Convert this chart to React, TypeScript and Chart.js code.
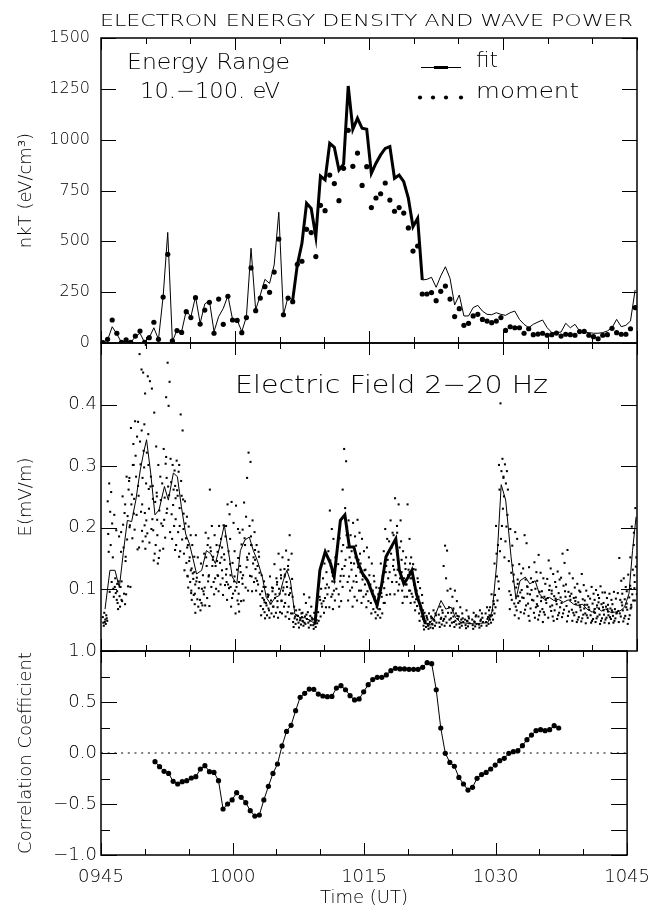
import React, { useEffect, useRef } from 'react';
import { Chart, registerables } from 'chart.js';
Chart.register(...registerables);

// ---------------- data ----------------
const TIME_LABELS = ['0945', '1000', '1015', '1030', '1045'];
const X_MIN = 0; // minutes after 09:45 UT
const X_MAX = 60;
const X_STEP = 5;
const X_MAJOR = 15;

// panel 1: electron energy density nkT (eV/cm^3), 10-100 eV
const NKT_T0 = 0.22; // first sample, min after 0945
const NKT_DT = 0.518; // sampling interval, min
const NKT_FIT = [
  2, 15, 80, 44, 3, 12, 3, 31, 48, 3,
  26, 75, 18, 228, 544, 7, 64, 56, 159, 129,
  228, 97, 192, 208, 56, 130, 170, 233, 116, 113,
  56, 129, 466, 162, 236, 313, 293, 384, 643, 138,
  228, 211, 384, 490, 687, 662, 523, 821, 802, 982,
  962, 851, 880, 1264, 1051, 1105, 1056, 1051, 834, 884,
  925, 957, 966, 810, 826, 793, 711, 572, 613, 310,
  313, 323, 274, 330, 375, 318, 187, 236, 133, 133,
  174, 185, 157, 141, 139, 149, 141, 136, 149, 157,
  116, 92, 75, 92, 103, 113, 75, 51, 51, 54,
  97, 75, 92, 59, 54, 51, 48, 48, 51, 59,
  75, 116, 80, 87, 108, 261,
];
const NKT_MOMENT = [
  2, 18, 113, 48, 3, 15, 3, 34, 59, 3,
  26, 102, 18, 226, 436, 10, 61, 52, 154, 125,
  223, 93, 162, 200, 48, 216, 92, 230, 113, 111,
  51, 125, 369, 159, 221, 277, 249, 349, 511, 139,
  221, 203, 387, 402, 559, 543, 425, 677, 651, 826,
  784, 700, 859, 1046, 869, 934, 775, 867, 666, 713,
  734, 787, 703, 648, 666, 639, 566, 452, 477, 241,
  241, 248, 208, 254, 280, 216, 130, 169, 87, 97,
  133, 141, 116, 108, 100, 108, 125, 62, 80, 75,
  75, 48, 70, 41, 44, 48, 38, 41, 49, 34,
  43, 41, 38, 56, 57, 38, 31, 21, 38, 41,
  72, 51, 43, 43, 70, 174,
];
const NKT_THICK_FROM = 41;
const NKT_THICK_TO = 69;
const NKT_TICKS = [0, 250, 500, 750, 1000, 1250, 1500];

// panel 2: electric field 2-20 Hz (mV/m)
const E_LINE_T = [
  0.45, 1.0, 1.57, 2.05, 2.5, 2.95, 3.43, 3.9, 4.4, 4.8,
  5.1, 5.56, 6.04, 6.5, 7.1, 7.54, 8.1, 8.55, 9.0, 9.48,
  9.9, 10.3, 10.7, 11.27, 11.8, 12.27, 12.8, 13.3, 13.8, 14.25,
  14.7, 15.2, 15.6, 16.1, 16.6, 17.05, 17.5, 18.06, 18.5, 19.0,
  19.5, 19.96, 20.4, 20.8, 21.2, 21.7, 22.3, 22.8, 23.4, 23.95,
  24.5, 25.1, 25.7, 26.1, 26.8, 27.3, 27.8, 28.3, 28.8, 29.3,
  29.85, 30.4, 30.9, 31.4, 31.9, 32.5, 33.0, 33.4, 33.9, 34.4,
  34.8, 35.3, 35.8, 36.3, 36.8, 37.3, 38.06, 38.6, 39.2, 39.7,
  40.3, 41.0, 41.8, 42.5, 43.3, 43.8, 44.3, 44.8, 45.3, 45.9,
  46.45, 46.9, 47.5, 48.0, 48.6, 49.07, 49.6, 50.2, 50.7, 51.2,
  51.75, 52.3, 52.9, 53.4, 53.9, 54.4, 55.0, 55.5, 56.0, 56.5,
  57.0, 57.5, 58.1, 58.6, 59.1, 59.5, 59.9,
];
const E_LINE_V = [
  0.068, 0.131, 0.131, 0.103, 0.16, 0.212, 0.21, 0.245, 0.294, 0.324,
  0.343, 0.289, 0.221, 0.229, 0.267, 0.245, 0.289, 0.283, 0.234, 0.19,
  0.174, 0.15, 0.125, 0.131, 0.163, 0.158, 0.142, 0.17, 0.205, 0.163,
  0.12, 0.109, 0.163, 0.18, 0.185, 0.163, 0.147, 0.12, 0.087, 0.076,
  0.087, 0.09, 0.114, 0.131, 0.114, 0.06, 0.054, 0.054, 0.05, 0.044,
  0.131, 0.161, 0.142, 0.12, 0.212, 0.221, 0.169, 0.169, 0.142, 0.125,
  0.114, 0.093, 0.074, 0.106, 0.153, 0.169, 0.182, 0.131, 0.109, 0.12,
  0.131, 0.093, 0.071, 0.044, 0.045, 0.054, 0.082, 0.068, 0.071, 0.054,
  0.046, 0.045, 0.044, 0.045, 0.046, 0.065, 0.142, 0.27, 0.245, 0.153,
  0.084, 0.114, 0.12, 0.109, 0.114, 0.093, 0.084, 0.087, 0.082, 0.084,
  0.079, 0.083, 0.076, 0.074, 0.076, 0.068, 0.063, 0.071, 0.065, 0.068,
  0.063, 0.063, 0.065, 0.071, 0.093, 0.163, 0.218,
];
const E_THICK_FROM = 23.9;
const E_THICK_TO = 36.35;
// individual samples within each averaging interval (one row per E_LINE_T entry)
const E_SAMPLES = [
  [0.062, 0.058, 0.055, 0.051, 0.049, 0.046, 0.044, 0.041, 0.053, 0.047],
  [0.272, 0.258, 0.243, 0.226, 0.207, 0.19, 0.172, 0.161, 0.112, 0.096],
  [0.221, 0.196, 0.152, 0.118, 0.109, 0.101, 0.094, 0.088, 0.083, 0.104],
  [0.113, 0.104, 0.097, 0.089, 0.083, 0.078, 0.072, 0.068, 0.161, 0.186],
  [0.251, 0.224, 0.193, 0.168, 0.146, 0.113, 0.093, 0.081, 0.076, 0.205],
  [0.283, 0.262, 0.238, 0.219, 0.201, 0.153, 0.105, 0.092, 0.276, 0.181],
  [0.362, 0.302, 0.281, 0.254, 0.223, 0.204, 0.183, 0.104, 0.336, 0.238],
  [0.373, 0.348, 0.302, 0.283, 0.268, 0.247, 0.221, 0.197, 0.165, 0.317],
  [0.482, 0.457, 0.372, 0.303, 0.281, 0.252, 0.226, 0.168, 0.195, 0.34],
  [0.452, 0.418, 0.358, 0.298, 0.272, 0.238, 0.204, 0.178, 0.186, 0.325],
  [0.497, 0.446, 0.368, 0.322, 0.263, 0.224, 0.191, 0.166, 0.352, 0.212],
  [0.438, 0.426, 0.302, 0.283, 0.247, 0.231, 0.198, 0.176, 0.214, 0.267],
  [0.387, 0.332, 0.268, 0.242, 0.213, 0.196, 0.172, 0.147, 0.257, 0.158],
  [0.302, 0.283, 0.251, 0.228, 0.207, 0.188, 0.163, 0.142, 0.245, 0.151],
  [0.328, 0.304, 0.272, 0.249, 0.224, 0.203, 0.184, 0.166, 0.315, 0.213],
  [0.468, 0.437, 0.412, 0.398, 0.312, 0.281, 0.253, 0.231, 0.193, 0.267],
  [0.302, 0.293, 0.274, 0.262, 0.248, 0.222, 0.203, 0.182, 0.164, 0.237],
  [0.309, 0.291, 0.268, 0.252, 0.232, 0.214, 0.193, 0.172, 0.153, 0.261],
  [0.384, 0.358, 0.302, 0.252, 0.223, 0.203, 0.181, 0.162, 0.246, 0.276],
  [0.243, 0.218, 0.198, 0.183, 0.172, 0.158, 0.143, 0.131, 0.122, 0.207],
  [0.202, 0.188, 0.168, 0.152, 0.134, 0.121, 0.112, 0.103, 0.094, 0.146],
  [0.172, 0.153, 0.131, 0.117, 0.108, 0.098, 0.091, 0.083, 0.076, 0.126],
  [0.188, 0.152, 0.128, 0.119, 0.102, 0.093, 0.084, 0.062, 0.072, 0.113],
  [0.142, 0.123, 0.112, 0.101, 0.092, 0.083, 0.074, 0.066, 0.097, 0.078],
  [0.192, 0.172, 0.158, 0.138, 0.121, 0.103, 0.086, 0.074, 0.113, 0.152],
  [0.262, 0.203, 0.183, 0.162, 0.148, 0.123, 0.104, 0.073, 0.138, 0.168],
  [0.188, 0.172, 0.153, 0.138, 0.123, 0.112, 0.101, 0.092, 0.146, 0.118],
  [0.203, 0.182, 0.161, 0.143, 0.131, 0.122, 0.108, 0.097, 0.152, 0.171],
  [0.204, 0.186, 0.168, 0.148, 0.133, 0.118, 0.107, 0.091, 0.124, 0.157],
  [0.238, 0.222, 0.203, 0.162, 0.123, 0.112, 0.102, 0.083, 0.141, 0.108],
  [0.242, 0.208, 0.182, 0.143, 0.121, 0.104, 0.093, 0.072, 0.113, 0.086],
  [0.236, 0.198, 0.162, 0.132, 0.112, 0.098, 0.082, 0.061, 0.076, 0.104],
  [0.192, 0.173, 0.151, 0.128, 0.109, 0.093, 0.081, 0.064, 0.118, 0.138],
  [0.241, 0.218, 0.197, 0.172, 0.152, 0.123, 0.103, 0.082, 0.136, 0.183],
  [0.322, 0.307, 0.281, 0.203, 0.172, 0.148, 0.122, 0.098, 0.186, 0.158],
  [0.212, 0.193, 0.172, 0.152, 0.133, 0.121, 0.112, 0.097, 0.164, 0.142],
  [0.172, 0.161, 0.148, 0.138, 0.127, 0.118, 0.108, 0.098, 0.153, 0.114],
  [0.123, 0.104, 0.092, 0.086, 0.079, 0.073, 0.068, 0.058, 0.113, 0.097],
  [0.104, 0.092, 0.083, 0.074, 0.069, 0.063, 0.058, 0.053, 0.088, 0.078],
  [0.121, 0.103, 0.091, 0.082, 0.072, 0.066, 0.061, 0.054, 0.097, 0.077],
  [0.141, 0.118, 0.102, 0.092, 0.081, 0.072, 0.062, 0.056, 0.108, 0.086],
  [0.158, 0.132, 0.112, 0.093, 0.082, 0.071, 0.063, 0.054, 0.123, 0.101],
  [0.152, 0.133, 0.118, 0.103, 0.092, 0.081, 0.072, 0.061, 0.124, 0.098],
  [0.163, 0.138, 0.121, 0.104, 0.091, 0.078, 0.063, 0.056, 0.148, 0.112],
  [0.188, 0.158, 0.132, 0.102, 0.088, 0.072, 0.061, 0.052, 0.117, 0.094],
  [0.072, 0.066, 0.061, 0.056, 0.051, 0.047, 0.044, 0.039, 0.058, 0.053],
  [0.067, 0.061, 0.057, 0.053, 0.049, 0.046, 0.043, 0.038, 0.055, 0.05],
  [0.092, 0.078, 0.062, 0.056, 0.052, 0.048, 0.044, 0.041, 0.059, 0.046],
  [0.087, 0.072, 0.063, 0.057, 0.051, 0.046, 0.042, 0.038, 0.054, 0.049],
  [0.062, 0.057, 0.052, 0.048, 0.045, 0.042, 0.039, 0.036, 0.05, 0.044],
  [0.112, 0.101, 0.092, 0.083, 0.072, 0.063, 0.056, 0.049, 0.077, 0.088],
  [0.142, 0.128, 0.118, 0.102, 0.092, 0.081, 0.071, 0.062, 0.108, 0.086],
  [0.228, 0.198, 0.162, 0.138, 0.122, 0.103, 0.088, 0.071, 0.113, 0.147],
  [0.182, 0.152, 0.128, 0.112, 0.101, 0.092, 0.082, 0.068, 0.138, 0.098],
  [0.183, 0.162, 0.141, 0.122, 0.104, 0.092, 0.081, 0.072, 0.133, 0.113],
  [0.328, 0.308, 0.262, 0.232, 0.202, 0.172, 0.148, 0.122, 0.188, 0.138],
  [0.212, 0.188, 0.168, 0.152, 0.132, 0.112, 0.098, 0.082, 0.143, 0.121],
  [0.208, 0.186, 0.162, 0.142, 0.122, 0.103, 0.088, 0.072, 0.152, 0.113],
  [0.213, 0.192, 0.171, 0.148, 0.128, 0.112, 0.098, 0.082, 0.158, 0.136],
  [0.182, 0.162, 0.142, 0.122, 0.108, 0.098, 0.088, 0.078, 0.131, 0.116],
  [0.168, 0.152, 0.132, 0.112, 0.102, 0.092, 0.081, 0.071, 0.123, 0.097],
  [0.142, 0.122, 0.108, 0.098, 0.088, 0.078, 0.068, 0.061, 0.113, 0.093],
  [0.103, 0.092, 0.082, 0.074, 0.068, 0.063, 0.058, 0.053, 0.086, 0.071],
  [0.142, 0.122, 0.102, 0.088, 0.078, 0.068, 0.061, 0.054, 0.112, 0.094],
  [0.198, 0.182, 0.162, 0.138, 0.118, 0.102, 0.091, 0.078, 0.148, 0.128],
  [0.212, 0.192, 0.178, 0.168, 0.148, 0.128, 0.112, 0.092, 0.138, 0.158],
  [0.248, 0.203, 0.188, 0.172, 0.152, 0.132, 0.112, 0.092, 0.163, 0.123],
  [0.238, 0.212, 0.192, 0.168, 0.148, 0.132, 0.118, 0.098, 0.178, 0.108],
  [0.162, 0.142, 0.128, 0.118, 0.108, 0.098, 0.088, 0.078, 0.133, 0.113],
  [0.238, 0.182, 0.152, 0.132, 0.118, 0.108, 0.098, 0.088, 0.142, 0.123],
  [0.152, 0.141, 0.128, 0.118, 0.108, 0.098, 0.088, 0.078, 0.133, 0.093],
  [0.132, 0.118, 0.108, 0.098, 0.088, 0.079, 0.073, 0.066, 0.112, 0.084],
  [0.102, 0.091, 0.082, 0.072, 0.066, 0.061, 0.056, 0.049, 0.078, 0.068],
  [0.062, 0.057, 0.052, 0.048, 0.044, 0.041, 0.039, 0.035, 0.054, 0.046],
  [0.061, 0.056, 0.051, 0.047, 0.044, 0.041, 0.038, 0.036, 0.053, 0.043],
  [0.066, 0.061, 0.054, 0.049, 0.046, 0.043, 0.041, 0.037, 0.058, 0.051],
  [0.072, 0.066, 0.059, 0.054, 0.049, 0.046, 0.043, 0.039, 0.062, 0.052],
  [0.171, 0.163, 0.138, 0.118, 0.062, 0.052, 0.046, 0.041, 0.098, 0.056],
  [0.101, 0.088, 0.071, 0.062, 0.056, 0.051, 0.046, 0.041, 0.066, 0.053],
  [0.098, 0.081, 0.069, 0.061, 0.052, 0.047, 0.043, 0.039, 0.057, 0.049],
  [0.071, 0.061, 0.056, 0.051, 0.047, 0.044, 0.041, 0.038, 0.053, 0.046],
  [0.066, 0.056, 0.051, 0.048, 0.045, 0.042, 0.04, 0.037, 0.053, 0.049],
  [0.062, 0.056, 0.051, 0.047, 0.044, 0.042, 0.04, 0.036, 0.058, 0.048],
  [0.066, 0.061, 0.056, 0.051, 0.047, 0.043, 0.041, 0.038, 0.054, 0.049],
  [0.071, 0.066, 0.061, 0.055, 0.051, 0.047, 0.044, 0.041, 0.058, 0.052],
  [0.092, 0.081, 0.071, 0.066, 0.061, 0.056, 0.051, 0.046, 0.076, 0.058],
  [0.203, 0.172, 0.142, 0.121, 0.101, 0.091, 0.082, 0.071, 0.113, 0.158],
  [0.402, 0.312, 0.302, 0.292, 0.281, 0.262, 0.203, 0.162, 0.231, 0.182],
  [0.303, 0.292, 0.283, 0.272, 0.262, 0.251, 0.202, 0.152, 0.221, 0.178],
  [0.198, 0.171, 0.146, 0.127, 0.113, 0.097, 0.083, 0.068, 0.139, 0.091],
  [0.193, 0.182, 0.124, 0.103, 0.089, 0.077, 0.066, 0.058, 0.116, 0.072],
  [0.141, 0.126, 0.109, 0.095, 0.087, 0.078, 0.063, 0.053, 0.099, 0.081],
  [0.188, 0.175, 0.134, 0.116, 0.093, 0.086, 0.074, 0.061, 0.105, 0.067],
  [0.136, 0.118, 0.104, 0.092, 0.083, 0.077, 0.069, 0.057, 0.099, 0.049],
  [0.144, 0.128, 0.112, 0.101, 0.089, 0.082, 0.071, 0.062, 0.076, 0.054],
  [0.156, 0.127, 0.114, 0.096, 0.087, 0.073, 0.064, 0.051, 0.081, 0.058],
  [0.118, 0.109, 0.097, 0.088, 0.078, 0.068, 0.059, 0.047, 0.083, 0.063],
  [0.147, 0.134, 0.117, 0.106, 0.093, 0.086, 0.072, 0.054, 0.065, 0.099],
  [0.125, 0.112, 0.098, 0.089, 0.081, 0.074, 0.066, 0.056, 0.085, 0.049],
  [0.129, 0.116, 0.104, 0.094, 0.087, 0.076, 0.062, 0.052, 0.071, 0.058],
  [0.158, 0.143, 0.119, 0.106, 0.088, 0.078, 0.067, 0.055, 0.097, 0.061],
  [0.164, 0.126, 0.108, 0.096, 0.083, 0.073, 0.064, 0.048, 0.089, 0.057],
  [0.118, 0.103, 0.093, 0.086, 0.076, 0.067, 0.058, 0.049, 0.081, 0.062],
  [0.109, 0.098, 0.087, 0.079, 0.071, 0.063, 0.055, 0.047, 0.074, 0.051],
  [0.125, 0.107, 0.096, 0.084, 0.075, 0.066, 0.059, 0.048, 0.069, 0.053],
  [0.098, 0.089, 0.082, 0.075, 0.067, 0.061, 0.054, 0.045, 0.071, 0.058],
  [0.104, 0.093, 0.085, 0.077, 0.068, 0.058, 0.052, 0.046, 0.063, 0.049],
  [0.099, 0.091, 0.083, 0.074, 0.069, 0.062, 0.056, 0.047, 0.079, 0.053],
  [0.105, 0.095, 0.086, 0.076, 0.066, 0.059, 0.053, 0.044, 0.071, 0.049],
  [0.095, 0.086, 0.078, 0.072, 0.064, 0.059, 0.054, 0.046, 0.068, 0.051],
  [0.093, 0.083, 0.075, 0.069, 0.063, 0.058, 0.052, 0.045, 0.066, 0.055],
  [0.096, 0.085, 0.076, 0.068, 0.062, 0.057, 0.053, 0.046, 0.061, 0.049],
  [0.151, 0.114, 0.094, 0.083, 0.074, 0.065, 0.056, 0.047, 0.079, 0.061],
  [0.118, 0.104, 0.093, 0.084, 0.077, 0.066, 0.057, 0.048, 0.071, 0.053],
  [0.124, 0.106, 0.097, 0.087, 0.075, 0.067, 0.058, 0.044, 0.069, 0.052],
  [0.202, 0.172, 0.152, 0.132, 0.112, 0.101, 0.082, 0.071, 0.123, 0.092],
  [0.232, 0.212, 0.192, 0.152, 0.122, 0.102, 0.092, 0.082, 0.173, 0.137],
];
const E_SUB_ORDER = [3, 7, 0, 5, 9, 1, 6, 2, 8, 4]; // time slot of each sample within its interval
const E_SUB_DT = 0.055; // min between samples
const E_TICKS = [0.1, 0.2, 0.3, 0.4];

// panel 3: correlation coefficient
const CORR_T0 = 6.16;
const CORR_DT = 0.5173;
const CORR_V = [
  -0.085, -0.134, -0.18, -0.2, -0.278, -0.304, -0.281, -0.271, -0.245, -0.232,
  -0.157, -0.124, -0.183, -0.19, -0.271, -0.549, -0.5, -0.46, -0.389, -0.435,
  -0.487, -0.565, -0.618, -0.608, -0.46, -0.327, -0.2, -0.108, 0.069, 0.212,
  0.271, 0.415, 0.546, 0.585, 0.627, 0.624, 0.578, 0.559, 0.552, 0.555,
  0.637, 0.66, 0.62, 0.562, 0.52, 0.53, 0.6, 0.67, 0.72, 0.742,
  0.742, 0.765, 0.807, 0.83, 0.824, 0.824, 0.82, 0.82, 0.82, 0.84,
  0.886, 0.876, 0.62, 0.245, -0.003, -0.092, -0.13, -0.239, -0.304, -0.363,
  -0.337, -0.248, -0.212, -0.19, -0.157, -0.118, -0.075, -0.052, -0.003, 0.013,
  0.023, 0.072, 0.131, 0.176, 0.219, 0.229, 0.219, 0.229, 0.268, 0.245,
];
const CORR_TICKS = [-1, -0.75, -0.5, -0.25, 0, 0.25, 0.5, 0.75, 1];
const CORR_REF = 0;

// ---------------- layout / style ----------------
const W = 662;
const H = 909;
const PLOT_LEFT = 101;
const PLOT_RIGHT = 637;
const EDGES = [38, 343, 651, 855];
const FAMILY = 'DejaVu Sans';
const WEIGHT = '200';
const INK = '#000';

function font(size: number) {
  return { family: FAMILY, size, weight: WEIGHT as any };
}

function fitText(ctx: CanvasRenderingContext2D, text: string, left: number, baseline: number, size: number, width: number) {
  ctx.save();
  ctx.font = `${WEIGHT} ${size}px '${FAMILY}'`;
  ctx.textAlign = 'left';
  ctx.textBaseline = 'alphabetic';
  ctx.fillStyle = INK;
  const w = ctx.measureText(text).width || 1;
  ctx.translate(left, baseline);
  ctx.scale(width / w, 1);
  ctx.fillText(text, 0, 0);
  ctx.restore();
}

type DecorCfg = {
  yTicks: number[];
  yMajor: (v: number) => boolean;
  yLen: number;
  yMinorLeft: number;
  yMinorRight: number;
  extra?: (chart: any, ctx: CanvasRenderingContext2D, a: any) => void;
};

function decor(d: DecorCfg) {
  return {
    id: 'decor',
    afterDraw(chart: any) {
      const ctx: CanvasRenderingContext2D = chart.ctx;
      const a = chart.chartArea;
      const xs = chart.scales.x;
      const ys = chart.scales.y;
      ctx.save();
      ctx.strokeStyle = INK;
      ctx.lineWidth = 1;
      ctx.beginPath();
      for (let v = X_MIN; v <= X_MAX + 1e-9; v += X_STEP) {
        const px = Math.round(xs.getPixelForValue(v)) + 0.5;
        const len = Math.abs(v % X_MAJOR) < 1e-9 ? 12 : 6;
        ctx.moveTo(px, a.top);
        ctx.lineTo(px, a.top + len);
        ctx.moveTo(px, a.bottom);
        ctx.lineTo(px, a.bottom - len);
      }
      for (const v of d.yTicks) {
        const py = Math.round(ys.getPixelForValue(v)) + 0.5;
        const maj = d.yMajor(v);
        ctx.moveTo(a.left, py);
        ctx.lineTo(a.left + (maj ? d.yLen : d.yMinorLeft), py);
        ctx.moveTo(a.right, py);
        ctx.lineTo(a.right - (maj ? d.yLen : d.yMinorRight), py);
      }
      ctx.stroke();
      ctx.lineWidth = 1.5;
      ctx.strokeRect(a.left, a.top, a.right - a.left, a.bottom - a.top);
      if (d.extra) d.extra(chart, ctx, a);
      ctx.restore();
    },
  };
}

function xScale(display: boolean) {
  return {
    type: 'linear',
    min: X_MIN,
    max: X_MAX,
    display,
    grid: { display: false, drawTicks: false },
    border: { display: false },
    ticks: {
      stepSize: X_STEP,
      autoSkip: false,
      maxRotation: 0,
      minRotation: 0,
      color: INK,
      padding: 12,
      font: font(18),
      callback: (v: number) => {
        const i = Math.round(v / X_MAJOR);
        return Math.abs(v - i * X_MAJOR) < 1e-6 ? TIME_LABELS[i] ?? '' : '';
      },
    },
    title: {
      display,
      text: 'Time (UT)',
      color: INK,
      font: font(18),
      padding: { top: 0, bottom: 0 },
    },
    afterFit: (s: any) => {
      if (display) s.height = H - EDGES[3];
    },
  };
}

function yScale(min: number, max: number, step: number, title: string, labelSize: number, labelPad: number, cb: (v: number) => string) {
  return {
    type: 'linear',
    position: 'left',
    min,
    max,
    grid: { display: false, drawTicks: false },
    border: { display: false },
    ticks: { stepSize: step, color: INK, font: font(labelSize), padding: labelPad, callback: cb, autoSkip: false },
    title: { display: true, text: title, color: INK, font: font(18), padding: { top: 16, bottom: 0 } },
    afterFit: (s: any) => {
      s.width = PLOT_LEFT;
    },
  };
}

function baseOptions(top: number, bottom: number, scales: any) {
  return {
    responsive: false,
    animation: false,
    devicePixelRatio: 1,
    events: [],
    layout: { padding: { left: 0, right: W - PLOT_RIGHT, top, bottom } },
    plugins: { legend: { display: false }, tooltip: { enabled: false }, title: { display: false } },
    scales,
  };
}

function cfgTop(): any {
  const fit = NKT_FIT.map((v, i) => ({ x: NKT_T0 + i * NKT_DT, y: v }));
  const mom = NKT_MOMENT.map((v, i) => ({ x: NKT_T0 + i * NKT_DT, y: v }));
  const thick = fit.slice(NKT_THICK_FROM, NKT_THICK_TO + 1);
  return {
    type: 'scatter',
    data: {
      datasets: [
        { data: fit, showLine: true, borderColor: INK, borderWidth: 1, pointRadius: 0 },
        { data: thick, showLine: true, borderColor: INK, borderWidth: 3, pointRadius: 0 },
        { data: mom, showLine: false, pointRadius: 2.6, backgroundColor: INK, borderWidth: 0 },
      ],
    },
    options: baseOptions(EDGES[0], H - EDGES[1], {
      x: xScale(false),
      y: yScale(0, 1500, 250, 'nkT (eV/cm\u00B3)', 16, 11, (v: number) => (NKT_TICKS.includes(v) ? String(v) : '')),
    }),
    plugins: [
      decor({
        yTicks: NKT_TICKS,
        yMajor: () => true,
        yLen: 15,
        yMinorLeft: 8,
        yMinorRight: 8,
        extra: (chart, ctx, a) => {
          fitText(ctx, 'ELECTRON ENERGY DENSITY AND WAVE POWER', a.left - 1, a.top - 12, 15.5, 533);
          fitText(ctx, 'Energy Range', a.left + 26, a.top + 31, 22, 163);
          fitText(ctx, '10.\u2212100. eV', a.left + 39, a.top + 60, 22, 140);
          // legend: fit (line) and moment (dots)
          ctx.strokeStyle = INK;
          ctx.lineWidth = 1;
          ctx.beginPath();
          ctx.moveTo(a.left + 320, a.top + 29.5);
          ctx.lineTo(a.left + 360, a.top + 29.5);
          ctx.stroke();
          ctx.lineWidth = 3;
          ctx.beginPath();
          ctx.moveTo(a.left + 333, a.top + 29.5);
          ctx.lineTo(a.left + 347, a.top + 29.5);
          ctx.stroke();
          fitText(ctx, 'fit', a.left + 375, a.top + 29, 21, 22);
          ctx.fillStyle = INK;
          for (const dx of [319, 332, 345, 360]) {
            ctx.beginPath();
            ctx.arc(a.left + dx, a.top + 59.5, 2.1, 0, Math.PI * 2);
            ctx.fill();
          }
          fitText(ctx, 'moment', a.left + 375, a.top + 60, 21, 103);
        },
      }),
    ],
  };
}

function cfgMid(): any {
  const line = E_LINE_T.map((t, i) => ({ x: t, y: E_LINE_V[i] }));
  const thick = line.filter((p) => p.x >= E_THICK_FROM && p.x <= E_THICK_TO);
  const samples: { x: number; y: number }[] = [];
  const mid = (E_SUB_ORDER.length - 1) / 2;
  E_SAMPLES.forEach((col, i) => {
    const t = E_LINE_T[i];
    if (t === undefined) return;
    col.forEach((v, k) => samples.push({ x: t + (E_SUB_ORDER[k % E_SUB_ORDER.length] - mid) * E_SUB_DT, y: v }));
  });
  return {
    type: 'scatter',
    data: {
      datasets: [
        { data: samples, showLine: false, pointStyle: 'rect', pointRadius: 1.45, backgroundColor: INK, borderWidth: 0 },
        { data: line, showLine: true, borderColor: INK, borderWidth: 1, pointRadius: 0 },
        { data: thick, showLine: true, borderColor: INK, borderWidth: 3, pointRadius: 0 },
      ],
    },
    options: baseOptions(EDGES[1], H - EDGES[2], {
      x: xScale(false),
      y: yScale(0, 0.5, 0.1, 'E(mV/m)', 18, 4, (v: number) => {
        const r = Math.round(v * 10) / 10;
        return E_TICKS.some((t) => Math.abs(t - r) < 1e-9) ? r.toFixed(1) : '';
      }),
    }),
    plugins: [
      decor({
        yTicks: E_TICKS,
        yMajor: () => true,
        yLen: 16,
        yMinorLeft: 8,
        yMinorRight: 8,
        extra: (chart, ctx, a) => {
          fitText(ctx, 'Electric Field 2\u221220 Hz', a.left + 134, a.top + 50, 25, 313);
        },
      }),
    ],
  };
}

function cfgBottom(): any {
  const corr = CORR_V.map((v, i) => ({ x: CORR_T0 + i * CORR_DT, y: v }));
  const ref = [
    { x: X_MIN, y: CORR_REF },
    { x: X_MAX, y: CORR_REF },
  ];
  return {
    type: 'scatter',
    data: {
      datasets: [
        { data: ref, showLine: true, borderColor: INK, borderWidth: 1, borderDash: [2, 4.7], pointRadius: 0 },
        { data: corr, showLine: true, borderColor: INK, borderWidth: 1, pointRadius: 2.6, backgroundColor: INK, pointBorderWidth: 0 },
      ],
    },
    options: baseOptions(EDGES[2], 0, {
      x: xScale(true),
      y: yScale(-1, 1, 0.25, 'Correlation Coefficient', 18, 4, (v: number) => {
        const m = Math.round(v * 2);
        if (Math.abs(v * 2 - m) > 1e-6) return '';
        const s = Math.abs(v).toFixed(1);
        return v < -1e-9 ? '\u2212' + s : s;
      }),
    }),
    plugins: [
      decor({
        yTicks: CORR_TICKS,
        yMajor: (v) => Math.abs(v * 2 - Math.round(v * 2)) < 1e-6,
        yLen: 16,
        yMinorLeft: 9,
        yMinorRight: 16,
      }),
    ],
  };
}

export default function App() {
  const r1 = useRef<HTMLCanvasElement>(null);
  const r2 = useRef<HTMLCanvasElement>(null);
  const r3 = useRef<HTMLCanvasElement>(null);
  useEffect(() => {
    const charts = [
      new Chart(r1.current as HTMLCanvasElement, cfgTop()),
      new Chart(r2.current as HTMLCanvasElement, cfgMid()),
      new Chart(r3.current as HTMLCanvasElement, cfgBottom()),
    ];
    return () => charts.forEach((c) => c.destroy());
  }, []);
  const cs: React.CSSProperties = { position: 'absolute', left: 0, top: 0, width: W, height: H };
  return (
    <div style={{ position: 'fixed', left: 0, top: 0, width: W, height: H, background: '#fff' }}>
      <canvas ref={r1} width={W} height={H} style={cs} />
      <canvas ref={r2} width={W} height={H} style={cs} />
      <canvas ref={r3} width={W} height={H} style={cs} />
    </div>
  );
}
